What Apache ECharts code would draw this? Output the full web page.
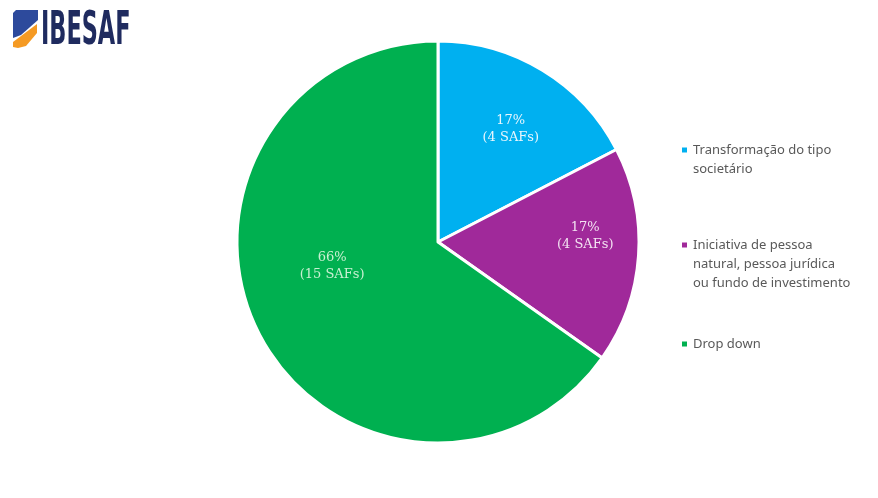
<!DOCTYPE html>
<html><head><meta charset="utf-8">
<script src="https://cdn.jsdelivr.net/npm/echarts@6/dist/echarts.min.js"></script>
<style>html,body{margin:0;padding:0;background:#fff}#c{width:878px;height:498px}</style>
</head><body><div id="c"></div>
<script>
const categories = ['Transformação do tipo societário', 'Iniciativa de pessoa natural, pessoa jurídica ou fundo de investimento', 'Drop down'];
const legendLabels = ['Transformação do tipo\nsocietário', 'Iniciativa de pessoa\nnatural, pessoa jurídica\nou fundo de investimento', 'Drop down'];
const counts = [4, 4, 15];
const percentLabels = ['17%', '17%', '66%'];
const colors = ['#00b0f0', '#a0299a', '#00b050'];
const labelColors = ['#e8f6fd', '#f3e3f2', '#c9f0d2'];
const labelOffsets = [[19, -24], [44, -13], [-14, -23]];

const chart = echarts.init(document.getElementById('c'));
const data = categories.map((n, i) => ({
  name: n, value: counts[i],
  itemStyle: { color: colors[i] },
  label: { color: labelColors[i], offset: labelOffsets[i] }
}));
const LH = 19;
const legendFirstLineY = [150, 245, 344];
chart.setOption({
  animation: false,
  backgroundColor: '#fff',
  legend: categories.map((n, i) => {
    const lines = legendLabels[i].split('\n').length;
    return {
      data: [n], orient: 'vertical', left: 680,
      top: legendFirstLineY[i] - LH / 2 - (lines - 1) * LH,
      padding: 0,
      icon: 'rect', itemWidth: 7, itemHeight: 7,
      formatter: () => '\n'.repeat(lines - 1) + legendLabels[i],
      textStyle: { color: '#595959', fontSize: 13, fontFamily: 'Noto Sans', lineHeight: LH },
      selectedMode: false
    };
  }),
  series: [{
    type: 'pie', center: [438, 242], radius: 201, startAngle: 90, clockwise: true,
    itemStyle: { borderColor: '#fff', borderWidth: 3 },
    label: {
      position: 'inside', fontFamily: 'DejaVu Serif', fontSize: 13, lineHeight: 17,
      formatter: p => percentLabels[p.dataIndex] + '\n(' + p.value + ' SAFs)'
    },
    labelLine: { show: false },
    data: data
  }],
  graphic: [
    { type: 'polygon', shape: { points: [[13,13],[16,10],[38,10],[38,20],[21,35],[13,38]] }, style: { fill: '#2d4a9c' } },
    { type: 'polygon', shape: { points: [[13,42],[37,24],[37,33],[26,46],[18,48],[13,47]] }, style: { fill: '#f59a23' } },
    { type: 'text', left: 41, top: 8, style: { text: 'IBESAF', font: 'bold 47px "DejaVu Sans Condensed", "DejaVu Sans"', fill: '#1f2b5f' }, scaleX: 0.53 }
  ]
});
</script></body></html>
